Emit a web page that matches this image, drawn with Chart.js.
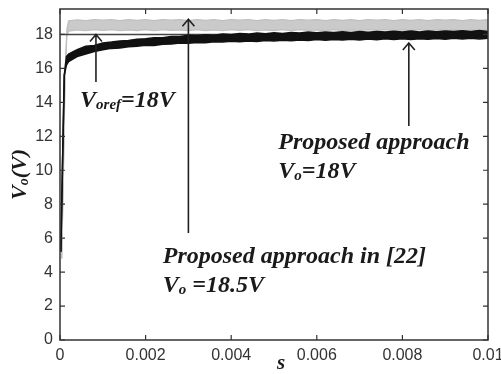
<!DOCTYPE html>
<html>
<head>
<meta charset="utf-8">
<script src="https://cdn.jsdelivr.net/npm/chart.js@4.4.0/dist/chart.umd.min.js"></script>
<style>
  html, body { margin: 0; padding: 0; background: #fff; overflow: hidden; }
  #wrap { width: 501px; height: 374px; position: relative; }
</style>
</head>
<body>
<div id="wrap"><canvas id="voltageChart"></canvas></div>
<script>
// output voltage ripple band (V) against time (s)
const timeProposed = [0.00002, 0.00006, 0.0001, 0.00015,
  0.0002, 0.0004, 0.0006, 0.0008, 0.001, 0.0012, 0.0014, 0.0016, 0.0018, 0.002,
  0.0022, 0.0024, 0.0026, 0.0028, 0.003, 0.0032, 0.0034, 0.0036, 0.0038, 0.004,
  0.0042, 0.0044, 0.0046, 0.0048, 0.005, 0.0052, 0.0054, 0.0056, 0.0058, 0.006,
  0.0062, 0.0064, 0.0066, 0.0068, 0.007, 0.0072, 0.0074, 0.0076, 0.0078, 0.008,
  0.0082, 0.0084, 0.0086, 0.0088, 0.009, 0.0092, 0.0094, 0.0096, 0.0098, 0.01];
const proposedHigh = [5.2, 10.5, 15.6, 16.7,
  16.85, 17.1, 17.3, 17.35, 17.5, 17.55, 17.62, 17.65, 17.72, 17.75,
  17.8, 17.8, 17.88, 17.88, 17.95, 17.92, 17.99, 17.96, 18.03, 18.0,
  18.06, 18.02, 18.08, 18.04, 18.1, 18.06, 18.12, 18.08, 18.14, 18.1,
  18.15, 18.11, 18.16, 18.12, 18.17, 18.13, 18.18, 18.14, 18.19, 18.15,
  18.2, 18.15, 18.21, 18.16, 18.21, 18.17, 18.22, 18.17, 18.23, 18.18];
const proposedLow = [5.2, 10.5, 15.6, 16.2,
  16.4, 16.7, 16.85, 17.0, 17.1, 17.18, 17.2, 17.28, 17.3, 17.37,
  17.35, 17.42, 17.44, 17.5, 17.48, 17.53, 17.51, 17.57, 17.55, 17.6,
  17.57, 17.62, 17.59, 17.64, 17.61, 17.66, 17.63, 17.68, 17.65, 17.7,
  17.66, 17.71, 17.67, 17.72, 17.68, 17.73, 17.69, 17.74, 17.7, 17.75,
  17.71, 17.75, 17.72, 17.76, 17.72, 17.77, 17.73, 17.77, 17.74, 17.78];

const timeRef22 = [0.00004, 0.00008, 0.00012, 0.00016,
  0.0002, 0.0004, 0.0006, 0.0008, 0.001, 0.0012, 0.0014, 0.0016, 0.0018, 0.002,
  0.0022, 0.0024, 0.0026, 0.0028, 0.003, 0.0032, 0.0034, 0.0036, 0.0038, 0.004,
  0.0042, 0.0044, 0.0046, 0.0048, 0.005, 0.0052, 0.0054, 0.0056, 0.0058, 0.006,
  0.0062, 0.0064, 0.0066, 0.0068, 0.007, 0.0072, 0.0074, 0.0076, 0.0078, 0.008,
  0.0082, 0.0084, 0.0086, 0.0088, 0.009, 0.0092, 0.0094, 0.0096, 0.0098, 0.01];
const ref22High = [4.8, 10.0, 15.8, 18.3,
  18.8, 18.86, 18.82, 18.88, 18.84, 18.88, 18.82, 18.87, 18.83, 18.88,
  18.82, 18.88, 18.84, 18.87, 18.82, 18.88, 18.83, 18.87, 18.82, 18.88,
  18.84, 18.88, 18.82, 18.87, 18.83, 18.88, 18.82, 18.88, 18.84, 18.87,
  18.82, 18.88, 18.83, 18.87, 18.82, 18.88, 18.84, 18.88, 18.82, 18.87,
  18.83, 18.88, 18.82, 18.88, 18.84, 18.87, 18.82, 18.88, 18.83, 18.87];
const ref22Low = [4.8, 10.0, 15.8, 17.9,
  18.2, 18.27, 18.22, 18.28, 18.24, 18.28, 18.22, 18.27, 18.23, 18.28,
  18.22, 18.28, 18.24, 18.27, 18.22, 18.28, 18.23, 18.27, 18.22, 18.28,
  18.24, 18.28, 18.22, 18.27, 18.23, 18.28, 18.22, 18.28, 18.24, 18.27,
  18.22, 18.28, 18.23, 18.27, 18.22, 18.28, 18.24, 18.28, 18.22, 18.27,
  18.23, 18.28, 18.22, 18.28, 18.24, 18.27, 18.22, 18.28, 18.23, 18.27];

const timeVoref = [0, 0.01];
const voltVoref = [18, 18];

const xTicks = [0, 0.002, 0.004, 0.006, 0.008, 0.01];
const yTicks = [0, 2, 4, 6, 8, 10, 12, 14, 16, 18];

function toPoints(xs, ys) {
  return xs.map((x, i) => ({ x: x, y: ys[i] }));
}

const SERIF = '"Liberation Serif", "DejaVu Serif", serif';

// draw text made of pieces, some of them subscript
function drawRich(ctx, parts, x, y) {
  let cx = x;
  parts.forEach(p => {
    ctx.font = 'italic bold ' + p.size + 'px ' + SERIF;
    ctx.fillText(p.t, cx, y + (p.dy || 0));
    cx += ctx.measureText(p.t).width;
  });
  return cx - x;
}

function richWidth(ctx, parts) {
  let w = 0;
  parts.forEach(p => {
    ctx.font = 'italic bold ' + p.size + 'px ' + SERIF;
    w += ctx.measureText(p.t).width;
  });
  return w;
}

function arrow(ctx, x, y0, y1) {
  ctx.beginPath();
  ctx.moveTo(x, y0);
  ctx.lineTo(x, y1);
  ctx.moveTo(x - 6, y1 + 7);
  ctx.lineTo(x, y1);
  ctx.lineTo(x + 6, y1 + 7);
  ctx.stroke();
}

// matlab-like frame, inward ticks, arrows and labels
const figureDecor = {
  id: 'figureDecor',
  afterDatasetsDraw(chart) {
    const ctx = chart.ctx;
    const area = chart.chartArea;
    const xs = chart.scales.x;
    const ys = chart.scales.y;
    ctx.save();

    ctx.strokeStyle = '#333';
    ctx.lineWidth = 1.5;
    ctx.strokeRect(area.left, area.top, area.right - area.left, area.bottom - area.top);

    ctx.lineWidth = 1.2;
    ctx.beginPath();
    xTicks.forEach(v => {
      const px = xs.getPixelForValue(v);
      ctx.moveTo(px, area.bottom); ctx.lineTo(px, area.bottom - 5);
      ctx.moveTo(px, area.top); ctx.lineTo(px, area.top + 5);
    });
    yTicks.forEach(v => {
      const py = ys.getPixelForValue(v);
      ctx.moveTo(area.left, py); ctx.lineTo(area.left + 5, py);
      ctx.moveTo(area.right, py); ctx.lineTo(area.right - 5, py);
    });
    ctx.stroke();

    // arrows (data coordinates)
    ctx.strokeStyle = '#222';
    ctx.lineWidth = 1.6;
    arrow(ctx, xs.getPixelForValue(0.00084), ys.getPixelForValue(15.2), ys.getPixelForValue(18.0));
    arrow(ctx, xs.getPixelForValue(0.003), ys.getPixelForValue(6.3), ys.getPixelForValue(18.9));
    arrow(ctx, xs.getPixelForValue(0.00815), ys.getPixelForValue(12.6), ys.getPixelForValue(17.5));

    // annotation texts
    ctx.fillStyle = '#1a1a1a';
    ctx.textBaseline = 'middle';
    ctx.textAlign = 'left';
    drawRich(ctx, [{ t: 'V', size: 24 }, { t: 'oref', size: 15, dy: 4 }, { t: '=18V', size: 24 }],
      xs.getPixelForValue(0.00047), ys.getPixelForValue(14.1));
    drawRich(ctx, [{ t: 'Proposed approach', size: 24 }],
      xs.getPixelForValue(0.0051), ys.getPixelForValue(11.6));
    drawRich(ctx, [{ t: 'V', size: 24 }, { t: 'o', size: 15, dy: 4 }, { t: '=18V', size: 24 }],
      xs.getPixelForValue(0.0051), ys.getPixelForValue(9.9));
    drawRich(ctx, [{ t: 'Proposed approach in [22]', size: 24 }],
      xs.getPixelForValue(0.0024), ys.getPixelForValue(4.9));
    drawRich(ctx, [{ t: 'V', size: 24 }, { t: 'o', size: 15, dy: 4 }, { t: ' =18.5V', size: 24 }],
      xs.getPixelForValue(0.0024), ys.getPixelForValue(3.2));

    // axis titles
    const yTitle = [{ t: 'V', size: 22 }, { t: 'o', size: 14, dy: 4 }, { t: '(V)', size: 22 }];
    ctx.save();
    ctx.translate(20, (area.top + area.bottom) / 2);
    ctx.rotate(-Math.PI / 2);
    drawRich(ctx, yTitle, -richWidth(ctx, yTitle) / 2, 0);
    ctx.restore();

    const xTitle = [{ t: 's', size: 21 }];
    drawRich(ctx, xTitle, (area.left + area.right) / 2 + 3, 364);

    ctx.restore();
  }
};

const ctx = document.getElementById('voltageChart').getContext('2d');
new Chart(ctx, {
  type: 'line',
  data: {
    datasets: [
      {
        label: 'Proposed approach (low)',
        data: toPoints(timeProposed, proposedLow),
        borderColor: '#111',
        borderWidth: 1.5,
        pointRadius: 0,
        fill: false,
        order: 0
      },
      {
        label: 'Proposed approach',
        data: toPoints(timeProposed, proposedHigh),
        borderColor: '#111',
        backgroundColor: '#111',
        borderWidth: 1.5,
        pointRadius: 0,
        fill: '-1',
        order: 0
      },
      {
        label: 'Voref',
        data: toPoints(timeVoref, voltVoref),
        borderColor: '#444',
        borderWidth: 1.4,
        pointRadius: 0,
        fill: false,
        order: 1
      },
      {
        label: 'Proposed approach in [22] (low)',
        data: toPoints(timeRef22, ref22Low),
        borderColor: '#bfbfbf',
        borderWidth: 1.2,
        pointRadius: 0,
        fill: false,
        order: 2
      },
      {
        label: 'Proposed approach in [22]',
        data: toPoints(timeRef22, ref22High),
        borderColor: '#bfbfbf',
        backgroundColor: '#cacaca',
        borderWidth: 1.2,
        pointRadius: 0,
        fill: '-1',
        order: 2
      }
    ]
  },
  options: {
    responsive: true,
    maintainAspectRatio: false,
    animation: false,
    layout: { padding: { left: 0, right: 13, top: 9, bottom: 0 } },
    plugins: { legend: { display: false }, tooltip: { enabled: false } },
    scales: {
      x: {
        type: 'linear',
        min: 0,
        max: 0.01,
        grid: { display: false, drawTicks: false },
        border: { display: false },
        afterBuildTicks: s => { s.ticks = xTicks.map(v => ({ value: v })); },
        afterFit: s => { s.paddingLeft = 0; s.paddingRight = 0; s.height = 34; },
        ticks: {
          maxRotation: 0,
          padding: 6,
          color: '#333',
          font: { family: '"Liberation Sans", Arial, sans-serif', size: 16 },
          callback: v => String(v)
        }
      },
      y: {
        min: 0,
        max: 19.5,
        grid: { display: false, drawTicks: false },
        border: { display: false },
        afterBuildTicks: s => { s.ticks = yTicks.map(v => ({ value: v })); },
        afterFit: s => { s.paddingTop = 0; s.paddingBottom = 0; s.width = 60; },
        ticks: {
          padding: 7,
          color: '#333',
          font: { family: '"Liberation Sans", Arial, sans-serif', size: 16 }
        }
      }
    }
  },
  plugins: [figureDecor]
});
</script>
</body>
</html>
